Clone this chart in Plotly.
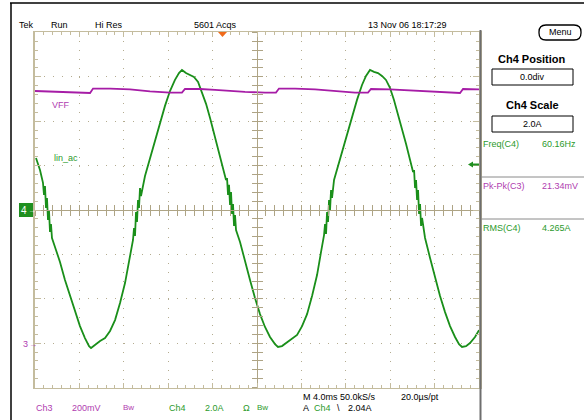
import plotly.graph_objects as go

# Ch4 "lin_ac" current (time in ms from left edge of screen, current in A)
t_ch4 = [0.09, 0.45, 0.72, 0.81, 0.90, 0.99, 1.08, 1.17, 1.26, 1.35, 1.44, 1.53, 1.89, 2.25, 2.70,
         3.15, 3.60, 4.05, 4.50, 4.87, 5.05, 5.41, 5.86, 6.31, 6.76, 7.21, 7.66, 8.11, 8.56, 8.83,
         8.92, 9.01, 9.10, 9.19, 9.28, 9.37, 9.46, 9.55, 9.91, 10.36, 10.81, 11.26, 11.71, 12.16,
         12.61, 12.97, 13.24, 13.60, 13.96, 14.32, 14.69, 15.05, 15.41, 15.77, 16.13, 16.49, 16.85,
         17.21, 17.30, 17.39, 17.48, 17.57, 17.66, 17.75, 17.84, 17.93, 18.02, 18.11, 18.47, 18.92,
         19.37, 19.82, 20.27, 20.72, 21.17, 21.62, 21.89, 22.25, 22.71, 23.16, 23.61, 24.06, 24.51,
         24.96, 25.41, 25.77, 26.04, 26.13, 26.22, 26.31, 26.40, 26.49, 26.58, 26.67, 26.76, 26.94,
         27.30, 27.66, 28.11, 28.56, 29.01, 29.46, 29.82, 30.18, 30.54, 30.90, 31.26, 31.62, 31.98,
         32.34, 32.71, 33.07, 33.43, 33.79, 34.06, 34.15, 34.24, 34.33, 34.42, 34.51, 34.60, 34.69,
         34.78, 34.87, 35.14, 35.59, 36.04, 36.49, 36.94, 37.39, 37.84, 38.20, 38.47, 38.83, 39.19,
         39.64, 40.00]
i_ch4 = [2.34, 1.80, 1.22, 0.68, 1.08, 0.09, 0.54, -0.45, 0.00, -0.99, -0.63, -1.26, -1.80, -2.34, -3.15,
         -3.87, -4.60, -5.23, -5.77, -6.13, -6.22, -6.08, -5.90, -5.77, -5.45, -4.96, -4.19, -3.29, -2.16, -1.35,
         -0.81, -1.17, -0.09, -0.54, 0.45, 0.09, 0.99, 0.63, 1.53, 2.34, 3.06, 3.87, 4.69, 5.36,
         5.86, 6.17, 6.31, 6.17, 6.08, 5.99, 5.77, 5.32, 4.78, 4.14, 3.47, 2.70, 2.03,
         1.35, 1.44, 0.68, 1.13, 0.23, 0.81, -0.18, 0.27, -0.72, -0.23, -0.90, -1.44, -2.34,
         -3.15, -3.96, -4.69, -5.27, -5.72, -6.04, -6.17, -6.13, -5.95, -5.81, -5.63, -5.23, -4.69,
         -3.87, -2.93, -1.89, -1.13, -0.63, -1.08, -0.09, -0.54, 0.45, 0.00, 0.90, 0.54, 1.35,
         1.98, 2.61, 3.33, 4.14, 4.96, 5.63, 6.04, 6.31, 6.22, 6.17, 6.04, 5.86, 5.50,
         4.96, 4.32, 3.69, 2.97, 2.25, 1.71, 1.80, 0.99, 1.35, 0.45, 0.90, -0.18, 0.27,
         -0.72, -0.36, -1.26, -2.16, -3.06, -3.87, -4.60, -5.23, -5.72, -6.04, -6.17, -6.13, -5.99,
         -5.72, -5.41]

# Ch3 "VFF" voltage (time in ms, voltage in V)
t_ch3 = [0.00, 1.35, 1.80, 3.15, 3.87, 4.96, 5.23, 6.76, 8.56, 10.36, 12.16, 13.24, 13.51, 14.87,
         16.22, 17.57, 18.92, 20.72, 21.71, 21.98, 23.43, 25.23, 27.03, 28.83, 30.00, 30.27, 31.98,
         33.79, 35.59, 37.39, 38.29, 38.56, 40.00]
v_ch3 = [1.136, 1.134, 1.132, 1.129, 1.127, 1.127, 1.147, 1.147, 1.143, 1.134, 1.129, 1.129, 1.145, 1.145,
         1.141, 1.136, 1.132, 1.129, 1.129, 1.147, 1.147, 1.143, 1.136, 1.129, 1.129, 1.145, 1.143,
         1.138, 1.134, 1.129, 1.127, 1.145, 1.143]

CH4_SCALE = 2.0   # A/div
CH4_POS = 0.0     # div
CH3_SCALE = 0.2   # V/div
CH3_POS = -3.0    # div
MS_PER_DIV = 4.0

# ---------------- styling / layout helpers ----------------
W, H = 584, 420
GX0, GX1 = 35, 479          # graticule pixel bounds
GY0, GY1 = 32.4, 387.6
FONT = "Liberation Sans, Arial, sans-serif"
GRID = "#b4ac90"
EDGE = "#c4bc9e"
CENTER = "#aea485"
GREEN = "#1a8f1a"
PURPLE = "#a61ca6"
GTXT = "#2c9a2c"
PTXT = "#b03cb0"


def px(x):
    return x / W


def py(y):
    return 1 - y / H


XDOM = [px(GX0), px(GX1)]
YDOM = [py(GY1), py(GY0)]
XR = [0, 10 * MS_PER_DIV]
YR = [-4, 4]

fig = go.Figure()

# dummy traces so the centre-cross axes exist
fig.add_trace(go.Scatter(x=[None], y=[None], xaxis="x2", yaxis="y", showlegend=False, hoverinfo="skip"))
fig.add_trace(go.Scatter(x=[None], y=[None], xaxis="x3", yaxis="y", showlegend=False, hoverinfo="skip"))
fig.add_trace(go.Scatter(x=[None], y=[None], xaxis="x", yaxis="y2", showlegend=False, hoverinfo="skip"))
fig.add_trace(go.Scatter(x=[None], y=[None], xaxis="x", yaxis="y3", showlegend=False, hoverinfo="skip"))

fig.add_trace(go.Scatter(x=t_ch4, y=[i / CH4_SCALE + CH4_POS for i in i_ch4], mode="lines",
                         line=dict(color=GREEN, width=1.8), showlegend=False, hoverinfo="skip"))
fig.add_trace(go.Scatter(x=t_ch3, y=[v / CH3_SCALE + CH3_POS for v in v_ch3], mode="lines",
                         line=dict(color=PURPLE, width=1.8, shape="linear"), showlegend=False,
                         hoverinfo="skip"))

common_off = dict(showticklabels=False, zeroline=False, fixedrange=True)

xaxis = dict(domain=XDOM, range=XR, dtick=MS_PER_DIV, tick0=0, showgrid=True, gridcolor=GRID,
             griddash="1px,7.88px", gridwidth=1, showline=True, linecolor=EDGE, linewidth=1.5,
             mirror="ticks", ticks="inside", ticklen=5, tickcolor=EDGE, tickwidth=1,
             minor=dict(dtick=MS_PER_DIV / 5, tick0=0, ticks="inside", ticklen=3, tickcolor=EDGE,
                        tickwidth=1, showgrid=False), **common_off)
yaxis = dict(domain=YDOM, range=YR, dtick=1, tick0=0, showgrid=True, gridcolor=GRID,
             griddash="1px,7.88px", gridwidth=1, showline=True, linecolor=EDGE, linewidth=2.5,
             mirror="ticks", ticks="inside", ticklen=6, tickcolor=EDGE, tickwidth=1,
             minor=dict(dtick=0.2, tick0=0, ticks="inside", ticklen=3, tickcolor=EDGE,
                        tickwidth=1, showgrid=False), **common_off)


def cx(side):
    return dict(domain=XDOM, range=XR, overlaying="x", anchor="free", position=0.5,
                showline=True, linecolor=CENTER, linewidth=1, ticks=side, ticklen=5,
                dtick=MS_PER_DIV / 5, tick0=0, tickcolor=CENTER, showgrid=False, **common_off)


def cy(side):
    return dict(domain=YDOM, range=YR, overlaying="y", anchor="free", position=(XDOM[0] + XDOM[1]) / 2,
                showline=True, linecolor=CENTER, linewidth=1, ticks=side, ticklen=5,
                dtick=0.2, tick0=0, tickcolor=CENTER, showgrid=False, **common_off)


annotations = []


def txt(s, x, y, color="black", size=9, anchor="left", bold=False):
    if bold:
        s = "<b>" + s + "</b>"
    annotations.append(dict(text=s, x=px(x), y=py(y), xref="paper", yref="paper", xanchor=anchor,
                            yanchor="middle", showarrow=False,
                            font=dict(family=FONT, size=size, color=color)))


# header
txt("Tek", 17, 25)
txt("Run", 49, 25)
txt("Hi Res", 93, 25)
txt("5601 Acqs", 192, 25)
txt("13 Nov 06 18:17:29", 366, 25)
txt("Menu", 560, 32, anchor="center")

# right panel
txt("Ch4 Position", 532, 59, size=11, anchor="center", bold=True)
txt("0.0div", 532, 77, anchor="center")
txt("Ch4 Scale", 532, 105, size=11, anchor="center", bold=True)
txt("2.0A", 532, 124, anchor="center")
txt("Freq(C4)", 481, 144, color=GTXT)
txt("60.16Hz", 540, 144, color=GTXT)
txt("Pk-Pk(C3)", 481, 186, color=PTXT)
txt("21.34mV", 540, 186, color=PTXT)
txt("RMS(C4)", 481, 228, color=GTXT)
txt("4.265A", 540, 228, color=GTXT)

# trace labels / markers
txt("VFF", 50, 105, color=PTXT)
txt("lin_ac", 52, 158, color=GTXT)
txt("4", 19, 210, color="white", size=10)
txt("→", 26, 210, color="white", size=8)
txt("3", 21, 344, color=PTXT)
txt("→", 27, 344, color=PTXT, size=8)

# bottom readouts
txt("Ch3", 34, 408, color=PTXT)
txt("200mV", 70, 408, color=PTXT)
txt("Bw", 121, 407, color=PTXT, size=8)
txt("Ch4", 167, 408, color=GTXT)
txt("2.0A", 203, 408, color=GTXT)
txt("Ω", 241, 408, color=GTXT)
txt("Bw", 255, 407, color=GTXT, size=8)
txt("M 4.0ms 50.0kS/s", 301, 397)
txt("20.0µs/pt", 399, 397)
txt("A", 301, 408)
txt("Ch4", 312, 408, color=GTXT)
txt("\\", 335, 408)
txt("2.04A", 346, 408)


def pth(points, close=True):
    s = "M " + " L ".join(f"{px(x):.5f},{py(y):.5f}" for x, y in points)
    return s + (" Z" if close else "")


def line(x0, y0, x1, y1, color, width):
    return dict(type="line", xref="paper", yref="paper", x0=px(x0), y0=py(y0), x1=px(x1), y1=py(y1),
                line=dict(color=color, width=width))


def rect(x0, y0, x1, y1, color="black", width=1, fill="rgba(0,0,0,0)"):
    return dict(type="rect", xref="paper", yref="paper", x0=px(x0), y0=py(y0), x1=px(x1), y1=py(y1),
                line=dict(color=color, width=width), fillcolor=fill)


# rounded "Menu" button outline
r = 7
mx0, mx1, my0, my1 = 539, 581, 25, 40
menu_path = (f"M {px(mx0 + r):.5f},{py(my0):.5f} L {px(mx1 - r):.5f},{py(my0):.5f} "
             f"Q {px(mx1):.5f},{py(my0):.5f} {px(mx1):.5f},{py(my0 + r):.5f} "
             f"L {px(mx1):.5f},{py(my1 - r):.5f} "
             f"Q {px(mx1):.5f},{py(my1):.5f} {px(mx1 - r):.5f},{py(my1):.5f} "
             f"L {px(mx0 + r):.5f},{py(my1):.5f} "
             f"Q {px(mx0):.5f},{py(my1):.5f} {px(mx0):.5f},{py(my1 - r):.5f} "
             f"L {px(mx0):.5f},{py(my0 + r):.5f} "
             f"Q {px(mx0):.5f},{py(my0):.5f} {px(mx0 + r):.5f},{py(my0):.5f} Z")

shapes = [
    line(10, 3, 584, 3, "black", 1.5),
    line(11, 3, 11, 420, "black", 1.5),
    line(480.5, 30, 480.5, 420, "#6e6e6e", 2),
    rect(492, 69, 573, 85),
    rect(492, 116, 573, 132),
    line(481, 177, 584, 177, "#8a8a8a", 1),
    line(481, 219, 584, 219, "#8a8a8a", 1),
    dict(type="path", xref="paper", yref="paper", path=menu_path, line=dict(color="black", width=1.3)),
    dict(type="rect", xref="paper", yref="paper", x0=px(19), y0=py(217), x1=px(34), y1=py(203),
         line=dict(width=0), fillcolor="#1f8f1f", layer="below"),
    dict(type="path", xref="paper", yref="paper", path=pth([(218, 32), (227, 32), (222.5, 37)]),
         fillcolor="#f06a1a", line=dict(width=0)),
    line(472, 164.5, 479, 164.5, "#1f8f1f", 2),
    dict(type="path", xref="paper", yref="paper", path=pth([(468, 164.5), (473, 161.5), (473, 167.5)]),
         fillcolor="#1f8f1f", line=dict(width=0)),
]

fig.update_layout(
    width=W, height=H, autosize=False,
    margin=dict(l=0, r=0, t=0, b=0, pad=0),
    paper_bgcolor="white", plot_bgcolor="white",
    showlegend=False, hovermode=False,
    xaxis=xaxis, yaxis=yaxis,
    xaxis2=cx("inside"), xaxis3=cx("outside"),
    yaxis2=cy("inside"), yaxis3=cy("outside"),
    annotations=annotations, shapes=shapes,
)

fig.write_html("out.html", config={"displayModeBar": False, "staticPlot": True},
               post_script="document.body.style.margin='0';document.body.style.overflow='hidden';")
